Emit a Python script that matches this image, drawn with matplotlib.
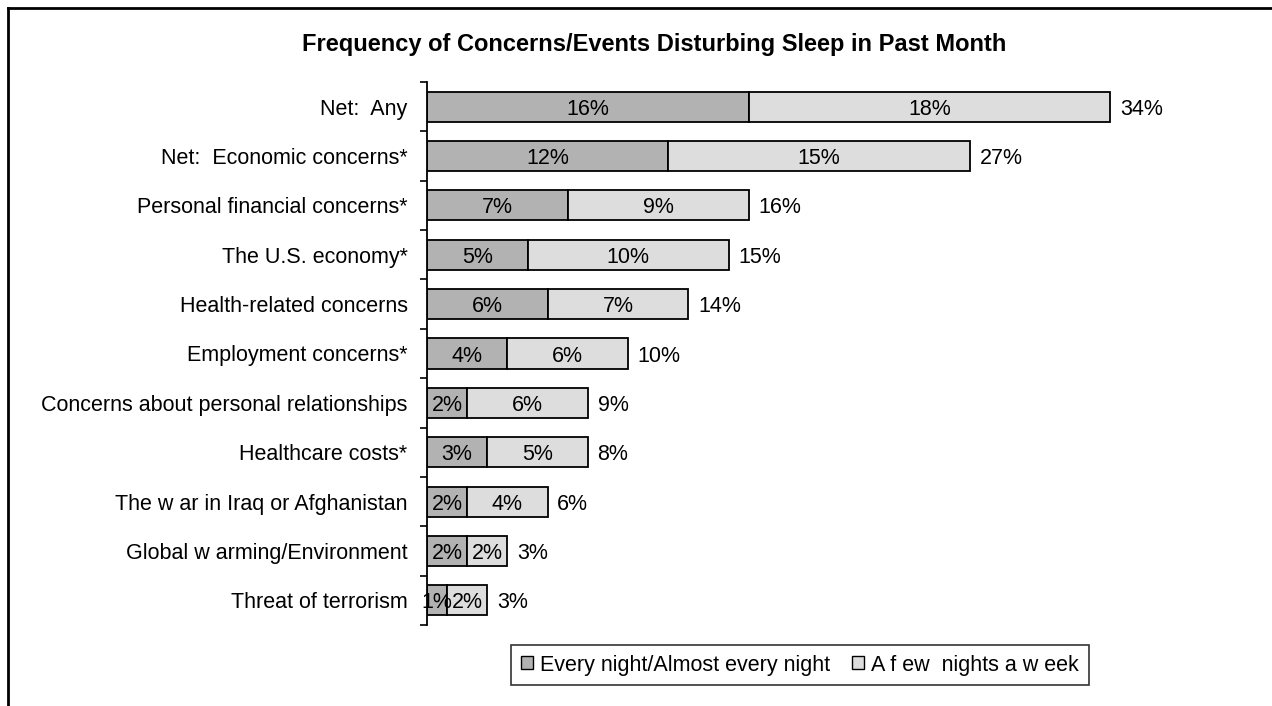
import matplotlib
matplotlib.use("Agg")
import matplotlib.pyplot as plt
from matplotlib.lines import Line2D
from matplotlib.patches import Patch
import numpy as np

plt.rcParams['font.family'] = ['Liberation Sans', 'DejaVu Sans']

categories = ["Net:  Any", "Net:  Economic concerns*", "Personal financial concerns*",
              "The U.S. economy*", "Health-related concerns", "Employment concerns*",
              "Concerns about personal relationships", "Healthcare costs*",
              "The w ar in Iraq or Afghanistan", "Global w arming/Environment",
              "Threat of terrorism"]
every_night = [16, 12, 7, 5, 6, 4, 2, 3, 2, 2, 1]
few_nights = [18, 15, 9, 10, 7, 6, 6, 5, 4, 2, 2]
totals = [34, 27, 16, 15, 14, 10, 9, 8, 6, 3, 3]
series_names = ["Every night/Almost every night", "A f ew  nights a w eek"]
colors = ["#b2b2b2", "#dddddd"]

W, H = 1272, 706
fig = plt.figure(figsize=(W / 100, H / 100), dpi=100)
ax = fig.add_axes([427 / W, 1 - 625 / H, 804 / W, (625 - 82) / H])

y = np.arange(len(categories))
ax.barh(y, every_night, height=0.61, color=colors[0], edgecolor="black", linewidth=1.3)
ax.barh(y, few_nights, left=every_night, height=0.61, color=colors[1], edgecolor="black", linewidth=1.3)

fs = 15.5
for i in range(len(categories)):
    ax.text(every_night[i] / 2, y[i], f"{every_night[i]}%", ha="center", va="center_baseline", fontsize=fs)
    ax.text(every_night[i] + few_nights[i] / 2, y[i], f"{few_nights[i]}%", ha="center",
            va="center_baseline", fontsize=fs)
    ax.annotate(f"{totals[i]}%", (every_night[i] + few_nights[i], y[i]), xytext=(7, 0),
                textcoords="offset points", ha="left", va="center_baseline", fontsize=fs)

ax.set_xlim(0, 40)
ax.set_ylim(len(categories) - 0.5, -0.5)
ax.set_yticks(y)
ax.set_yticklabels(categories, fontsize=fs)
ax.set_yticks(np.arange(-0.5, len(categories), 1), minor=True)
ax.tick_params(axis="y", which="major", length=0, pad=14)
ax.tick_params(axis="y", which="minor", length=5, width=1.2, direction="out")
ax.set_xticks([])
for s in ["top", "right", "bottom"]:
    ax.spines[s].set_visible(False)
ax.spines["left"].set_linewidth(1.3)

fig.text(654 / W, 1 - 44 / H, "Frequency of Concerns/Events Disturbing Sleep in Past Month",
         ha="center", va="center", fontsize=17, fontweight="bold")

handles = [Patch(facecolor=colors[0], edgecolor="black"), Patch(facecolor=colors[1], edgecolor="black")]
leg = fig.legend(handles, series_names, loc="center", bbox_to_anchor=(800 / W, 1 - 665 / H),
                 ncol=2, fontsize=fs, frameon=True, fancybox=False, handlelength=0.55,
                 handleheight=0.55, handletextpad=0.35, columnspacing=1.0, borderpad=0.45)
leg.get_frame().set_edgecolor("black")
leg.get_frame().set_linewidth(1.2)

# outer frame (top and left)
fig.add_artist(Line2D([8 / W, 1], [1 - 7.5 / H, 1 - 7.5 / H], color="black", linewidth=2, transform=fig.transFigure))
fig.add_artist(Line2D([8 / W, 8 / W], [1 - 7.5 / H, 0], color="black", linewidth=2, transform=fig.transFigure))

fig.savefig("out.png", dpi=100)
